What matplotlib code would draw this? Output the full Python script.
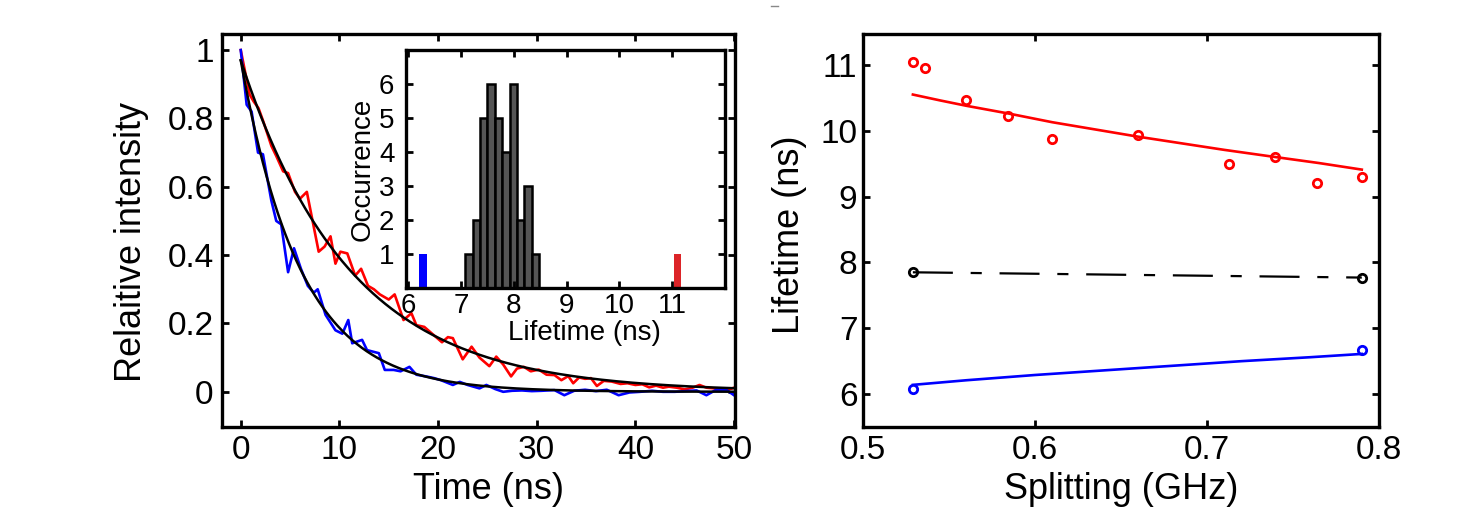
import numpy as np
import matplotlib
matplotlib.use("Agg")
import matplotlib.pyplot as plt
from matplotlib.lines import Line2D

plt.rcParams['font.family'] = ['Liberation Sans', 'DejaVu Sans']

# ---- decay traces (left panel) ----
red_t = [0, 0.9, 1.3, 1.8, 2.3, 3.1, 3.6, 4.3, 4.8, 5.5, 6.0, 6.7, 7.9, 8.5, 9.1, 9.6,
         10.1, 10.8, 11.6, 12.2, 12.9, 13.5, 14.1, 15.0, 15.6, 16.5, 17.3, 17.8, 18.6,
         19.4, 20.4, 21.0, 21.5, 22.5, 23.4, 24.2, 25.2, 25.9, 26.6, 27.4, 28.0, 28.7,
         29.4, 30.2, 31.0, 31.8, 32.5, 33.2, 33.7, 34.3, 34.9, 35.5, 36.1, 36.8, 37.6,
         38.5, 39.2, 40.0, 40.7, 41.4, 42.1, 42.8, 43.4, 44.2, 45.0, 45.8, 46.5, 47.2,
         48.0, 48.7, 49.4, 50.0]
red_y = [1.00, 0.87, 0.85, 0.83, 0.79, 0.72, 0.69, 0.645, 0.64, 0.585, 0.565, 0.585,
         0.41, 0.425, 0.455, 0.375, 0.41, 0.405, 0.34, 0.36, 0.31, 0.30, 0.285, 0.27,
         0.285, 0.21, 0.23, 0.195, 0.19, 0.17, 0.145, 0.16, 0.157, 0.095, 0.132, 0.10,
         0.075, 0.103, 0.08, 0.045, 0.068, 0.073, 0.06, 0.065, 0.05, 0.049, 0.034, 0.046,
         0.025, 0.042, 0.038, 0.04, 0.017, 0.032, 0.03, 0.023, 0.025, 0.02, 0.022, 0.013,
         0.018, 0.012, 0.015, 0.012, 0.007, 0.012, 0.020, 0.012, 0.01, 0.007, 0.006, 0.012]

blue_t = [0, 0.6, 1.1, 1.75, 2.25, 3.1, 3.6, 4.1, 4.8, 5.4, 6.1, 6.8, 7.4, 7.8, 8.6,
          9.6, 10.3, 10.9, 11.3, 12.3, 12.8, 14.0, 14.6, 15.5, 16.2, 17.1, 17.8, 18.8,
          19.6, 20.3, 21.5, 22.2, 23.0, 24.2, 24.9, 25.8, 26.6, 27.5, 28.5, 29.5, 30.5,
          31.8, 32.8, 33.8, 34.9, 36.0, 37.1, 38.3, 39.4, 40.5, 41.7, 42.8, 44.0, 45.1,
          46.2, 47.2, 48.2, 49.2, 50.0]
blue_y = [1.00, 0.84, 0.82, 0.70, 0.695, 0.56, 0.50, 0.49, 0.35, 0.42, 0.36, 0.31, 0.29,
          0.30, 0.225, 0.18, 0.17, 0.21, 0.142, 0.152, 0.122, 0.113, 0.064, 0.064, 0.06,
          0.073, 0.05, 0.045, 0.04, 0.034, 0.02, 0.029, 0.02, 0.01, 0.02, 0.008, 0.0,
          0.003, 0.004, 0.002, 0.003, 0.005, -0.01, 0.003, 0.006, 0.002, 0.006, -0.01,
          -0.002, 0.0, 0.003, 0.0, 0.0, 0.002, 0.004, -0.01, 0.006, 0.006, -0.01]

# exponential fits, lifetimes
fit_amp = 0.97
tau_red = 11.04
tau_blue = 6.08

# ---- inset histogram ----
hist_left = [7.08, 7.22, 7.36, 7.50, 7.64, 7.78, 7.92, 8.06, 8.20, 8.34]
hist_counts = [1, 2, 5, 6, 5, 4, 6, 2, 3, 1]
hist_width = 0.14
blue_bar = (6.21, 1)
red_bar = (11.03, 1)
bar_width = 0.14

# ---- lifetime vs splitting (right panel) ----
red_split = [0.529, 0.536, 0.560, 0.5845, 0.610, 0.660, 0.7125, 0.7394, 0.764, 0.790]
red_life = [11.04, 10.96, 10.46, 10.22, 9.88, 9.93, 9.50, 9.60, 9.20, 9.30]
red_fit_x = [0.529, 0.545, 0.560, 0.585, 0.610, 0.635, 0.660, 0.685, 0.710, 0.740, 0.765, 0.790]
red_fit_y = [10.55, 10.46, 10.38, 10.26, 10.13, 10.02, 9.91, 9.81, 9.71, 9.60, 9.51, 9.41]
black_split = [0.529, 0.790]
black_life = [7.85, 7.77]
blue_split = [0.529, 0.790]
blue_life = [6.08, 6.67]
blue_fit_x = [0.529, 0.560, 0.600, 0.640, 0.680, 0.720, 0.760, 0.790]
blue_fit_y = [6.14, 6.21, 6.29, 6.36, 6.43, 6.50, 6.56, 6.61]

W, H = 1461, 512
fig = plt.figure(figsize=(W / 100, H / 100), dpi=100)


def px_axes(l, t, r, b):
    return fig.add_axes([l / W, 1 - b / H, (r - l) / W, (b - t) / H])


def style(ax, size, pad_x, pad_y):
    for s in ax.spines.values():
        s.set_linewidth(2.4)
    ax.tick_params(direction='in', top=True, right=True, length=5, width=2,
                   labelsize=size)
    ax.tick_params(axis='x', pad=pad_x)
    ax.tick_params(axis='y', pad=pad_y)


# left panel
ax1 = px_axes(222, 34, 735, 427)
tt = np.linspace(0, 50, 400)
ax1.plot(red_t, red_y, color='red', lw=1.9)
ax1.plot(blue_t, blue_y, color='blue', lw=1.9)
ax1.plot(tt, fit_amp * np.exp(-tt / tau_red), color='black', lw=1.8)
ax1.plot(tt, fit_amp * np.exp(-tt / tau_blue), color='black', lw=1.8)
ax1.set_xlim(-1.9, 50.1)
ax1.set_ylim(-0.103, 1.047)
ax1.set_xticks([0, 10, 20, 30, 40, 50])
ax1.set_yticks([0, 0.2, 0.4, 0.6, 0.8, 1])
ax1.set_yticklabels(['0', '0.2', '0.4', '0.6', '0.8', '1'])
style(ax1, 24, 5.5, 6)
ax1.set_xlabel('Time (ns)', fontsize=26, va='top')
ax1.xaxis.set_label_coords(0.52, -0.115)
ax1.set_ylabel('Relaitive intensity', fontsize=26)
ax1.yaxis.set_label_coords(-0.142, 0.47)

# inset
ax2 = px_axes(405.5, 50, 725, 288.3)
ax2.bar(hist_left, hist_counts, width=hist_width, align='edge',
        color='#555555', edgecolor='black', linewidth=1.8)
ax2.bar(blue_bar[0], blue_bar[1], width=bar_width, align='edge', color='blue')
ax2.bar(red_bar[0], red_bar[1], width=bar_width, align='edge', color='#dc2428')
ax2.set_xlim(5.95, 12)
ax2.set_ylim(0, 7)
ax2.set_xticks([6, 7, 8, 9, 10, 11])
ax2.set_yticks([1, 2, 3, 4, 5, 6])
style(ax2, 20, 3.5, 8)
ax2.set_xlabel('Lifetime (ns)', fontsize=20, va='top')
ax2.xaxis.set_label_coords(0.56, -0.135)
ax2.set_ylabel('Occurrence', fontsize=20)
ax2.yaxis.set_label_coords(-0.095, 0.5)

# right panel
ax3 = px_axes(863, 34, 1379, 427)
ax3.plot(red_fit_x, red_fit_y, color='red', lw=1.9)
ax3.plot(blue_fit_x, blue_fit_y, color='blue', lw=1.9)
ax3.plot(black_split, black_life, color='black', lw=1.6, dashes=(18, 8, 5, 8),
         marker='o', ms=6, mfc='none', mew=2)
ax3.plot(red_split, red_life, 'o', color='red', ms=6, mfc='none', mew=2)
ax3.plot(blue_split, blue_life, 'o', color='blue', ms=6, mfc='none', mew=2)
ax3.set_xlim(0.5, 0.8)
ax3.set_ylim(5.5, 11.47)
ax3.set_xticks([0.5, 0.6, 0.7, 0.8])
ax3.set_yticks([6, 7, 8, 9, 10, 11])
style(ax3, 24, 5.5, 4)
ax3.set_xlabel('Splitting (GHz)', fontsize=26, va='top')
ax3.xaxis.set_label_coords(0.5, -0.115)
ax3.set_ylabel('Lifetime (ns)', fontsize=26)
ax3.yaxis.set_label_coords(-0.108, 0.49)

# small stray mark at the top of the page
fig.add_artist(Line2D([771 / W, 778 / W], [1 - 6 / H, 1 - 6 / H], color='#888888', lw=1))

fig.savefig('out.png', dpi=100)
